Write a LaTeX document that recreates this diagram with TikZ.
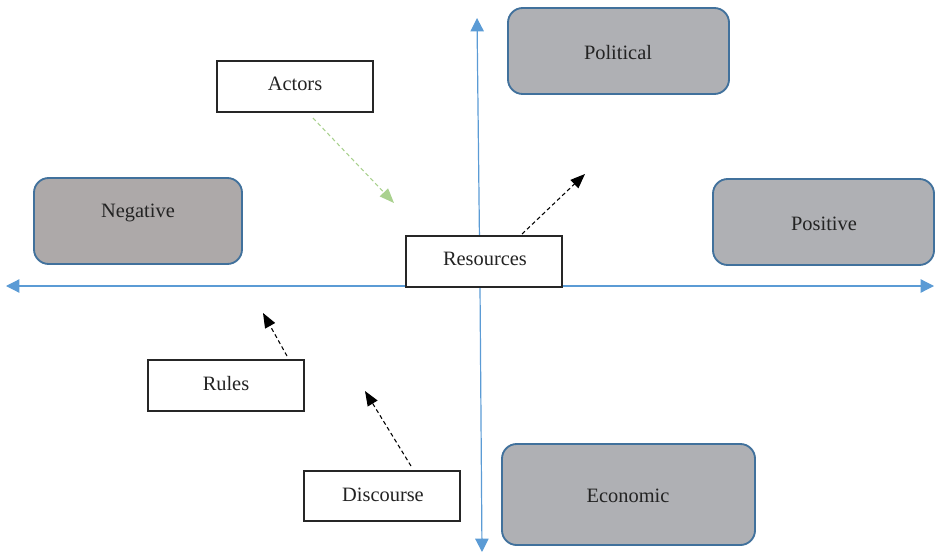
\documentclass[tikz,border=0pt]{standalone}
\usepackage{fontspec}
\setmainfont{Liberation Serif}
\usetikzlibrary{arrows.meta}
\definecolor{axisblue}{RGB}{91,155,213}
\definecolor{edgeblue}{RGB}{65,113,156}
\definecolor{qgray}{RGB}{175,176,180}
\definecolor{neggray}{RGB}{173,169,169}
\definecolor{lgreen}{RGB}{169,209,142}
\definecolor{txt}{RGB}{35,35,35}
\tikzset{
  quad/.style={draw=edgeblue, line width=1.4pt, fill=qgray, rounded corners=11pt, inner sep=0pt},
  plain/.style={draw=black!85, line width=0.8pt, fill=white, inner sep=0pt},
  lbl/.style={text=txt, font=\fontsize{15.3}{18}\selectfont},
  axis/.style={draw=axisblue, line width=0.9pt, -{Triangle[length=10pt,width=10pt]}},
  darr/.style={draw=black, line width=0.8pt, dash pattern=on 3pt off 2.2pt, -{Triangle[length=11pt,width=8.5pt]}},
  garr/.style={draw=lgreen, line width=0.8pt, dash pattern=on 3pt off 2.2pt, -{Triangle[length=11pt,width=8.5pt]}}
}
\begin{document}
\begin{tikzpicture}[x=0.75pt,y=-0.75pt]
\useasboundingbox (0,0) rectangle (935,553);
% axes
\coordinate (hc) at (480,286);
\coordinate (hl) at (6,286);
\coordinate (hr) at (934,286);
\coordinate (vt) at (477,18);
\coordinate (vb) at (482,552);
\draw[axis] (hc) -- (hl);
\draw[axis] (hc) -- (hr);
\draw[axis] (hc) -- (vt);
\draw[axis] (hc) -- (vb);
% quadrant boxes
\node[quad, minimum width=221pt*0.75, minimum height=86pt*0.75] (pol) at (618.5,51) {};
\node[lbl] at (618,53) {Political};
\node[quad, minimum width=221pt*0.75, minimum height=86pt*0.75] (pos) at (823.5,222) {};
\node[lbl] at (824,224) {Positive};
\node[quad, fill=neggray, minimum width=208pt*0.75, minimum height=86pt*0.75] (neg) at (138,221) {};
\node[lbl] at (138,212.5) {Negative};
\node[quad, minimum width=253pt*0.75, minimum height=101pt*0.75] (eco) at (628.5,494.5) {};
\node[lbl] at (628,496) {Economic};
% plain boxes
\node[plain, minimum width=156pt*0.75, minimum height=51pt*0.75] (act) at (295,86.5) {};
\node[lbl] at (295,83.5) {Actors};
\node[plain, minimum width=156pt*0.75, minimum height=51pt*0.75] (res) at (484,261.5) {};
\node[lbl] at (485,258.5) {Resources};
\node[plain, minimum width=156pt*0.75, minimum height=51pt*0.75] (rul) at (226,385.5) {};
\node[lbl] at (226,383.5) {Rules};
\node[plain, minimum width=156pt*0.75, minimum height=50pt*0.75] (dis) at (382,496) {};
\node[lbl] at (383,494.5) {Discourse};
% dashed arrows
\coordinate (g1) at (313,118);
\coordinate (g2) at (394,203);
\draw[garr] (g1) -- (g2);
\coordinate (r1) at (522,234);
\coordinate (r2) at (585,174);
\draw[darr] (r1) -- (r2);
\coordinate (u1) at (287,356);
\coordinate (u2) at (263,313);
\draw[darr] (u1) -- (u2);
\coordinate (d1) at (411,466);
\coordinate (d2) at (365,391);
\draw[darr] (d1) -- (d2);
\end{tikzpicture}
\end{document}
